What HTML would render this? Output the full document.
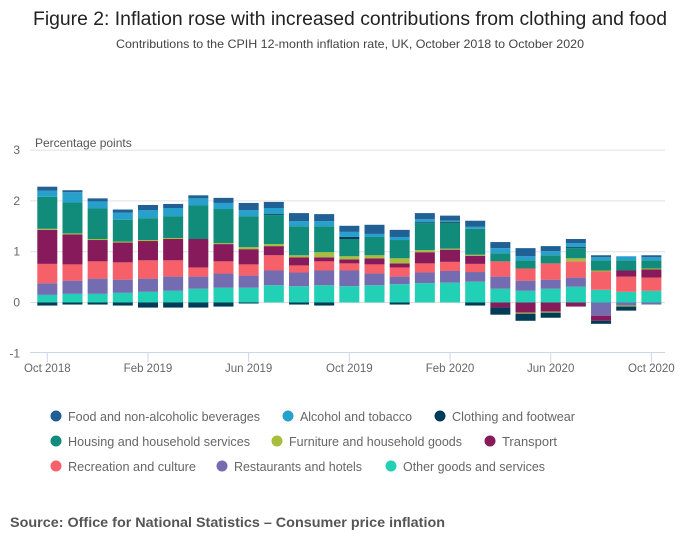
<!DOCTYPE html>
<html><head><meta charset="utf-8"><style>
body{margin:0;background:#fff;font-family:"Liberation Sans",sans-serif}
svg{display:block}
</style></head><body>
<svg id="c" width="700" height="549">
<text x="33" y="25" textLength="634" lengthAdjust="spacingAndGlyphs" font-size="19" fill="#222">Figure 2: Inflation rose with increased contributions from clothing and food</text>
<text x="116" y="48" textLength="468" lengthAdjust="spacingAndGlyphs" font-size="12" fill="#444">Contributions to the CPIH 12-month inflation rate, UK, October 2018 to October 2020</text>
<text x="35" y="147" font-size="12" fill="#555">Percentage points</text>
<g id="grid"></g><g id="bars"></g><g id="xaxis"></g><g id="legend"></g>
<text x="10" y="527" textLength="435" lengthAdjust="spacingAndGlyphs" font-size="14" font-weight="bold" fill="#555">Source: Office for National Statistics – Consumer price inflation</text>
</svg>
<script>
const months=["Oct 2018","Nov 2018","Dec 2018","Jan 2019","Feb 2019","Mar 2019","Apr 2019","May 2019","Jun 2019","Jul 2019","Aug 2019","Sep 2019","Oct 2019","Nov 2019","Dec 2019","Jan 2020","Feb 2020","Mar 2020","Apr 2020","May 2020","Jun 2020","Jul 2020","Aug 2020","Sep 2020","Oct 2020"];
const tickLabels=["Oct 2018","Feb 2019","Jun 2019","Oct 2019","Feb 2020","Jun 2020","Oct 2020"];
const yTicks=[-1,0,1,2,3];
const seriesNames=["Food and non-alcoholic beverages","Alcohol and tobacco","Clothing and footwear","Housing and household services","Furniture and household goods","Transport","Recreation and culture","Restaurants and hotels","Other goods and services"];
const food=[0.08,0.04,0.06,0.06,0.1,0.08,0.06,0.1,0.14,0.12,0.16,0.14,0.12,0.18,0.14,0.12,0.1,0.12,0.12,0.16,0.1,0.08,0.04,0,0.04];
const alcohol=[0.12,0.2,0.14,0.14,0.16,0.16,0.14,0.12,0.12,0.12,0.1,0.1,0.1,0.06,0.06,0.06,0.02,0.04,0.1,0.08,0.08,0.08,0.06,0.08,0.06];
const clothing=[-0.06,-0.04,-0.04,-0.06,-0.1,-0.1,-0.1,-0.08,-0.02,0.02,-0.04,-0.06,0.04,0,-0.04,0.02,0.02,-0.06,-0.14,-0.14,-0.1,0.02,-0.06,-0.08,0];
const housing=[0.63,0.61,0.6,0.43,0.43,0.43,0.66,0.67,0.61,0.57,0.57,0.51,0.34,0.36,0.36,0.53,0.51,0.51,0.16,0.16,0.16,0.2,0.2,0.2,0.16];
const furniture=[0.02,0.02,0.02,0.02,0.02,0.02,0,0.02,0.04,0.04,0.04,0.1,0.06,0.06,0.1,0.04,0.02,0.02,0,-0.02,-0.02,0.06,0.02,-0.02,0.02];
const transport=[0.67,0.59,0.42,0.39,0.38,0.42,0.56,0.34,0.3,0.18,0.16,0.08,0.08,0.12,0.08,0.22,0.24,0.16,-0.1,-0.2,-0.18,-0.08,-0.1,0.12,0.16];
const recreation=[0.38,0.32,0.34,0.34,0.36,0.32,0.18,0.24,0.22,0.3,0.14,0.18,0.14,0.18,0.18,0.18,0.18,0.16,0.3,0.24,0.32,0.32,0.36,0.3,0.26];
const restaurants=[0.23,0.26,0.3,0.26,0.26,0.28,0.24,0.28,0.24,0.29,0.27,0.29,0.31,0.23,0.15,0.21,0.23,0.19,0.24,0.2,0.18,0.18,-0.26,-0.06,-0.04];
const other=[0.15,0.17,0.17,0.19,0.21,0.23,0.27,0.29,0.29,0.34,0.32,0.34,0.32,0.34,0.36,0.38,0.39,0.41,0.27,0.23,0.27,0.31,0.25,0.21,0.23];
const colors=["#206095","#27a0cc","#003c57","#118c7b","#a8bd3a","#871a5b","#f66068","#746cb1","#22d0b6"];
const series=[food,alcohol,clothing,housing,furniture,transport,recreation,restaurants,other];
const NS="http://www.w3.org/2000/svg";
const y=v=>302.5-v*50.8;
const x=i=>47.3+i*25.17;
function mk(t,a,p){const e=document.createElementNS(NS,t);for(const k in a)e.setAttribute(k,a[k]);p.appendChild(e);return e;}
const grid=document.getElementById('grid');
yTicks.forEach(t=>{
  if(t>-1){const l=mk('line',{x1:30,x2:665,y1:y(t),y2:y(t),stroke:'#e0e0e0','stroke-width':1},grid);
  
  }
  const tx=mk('text',{x:20,y:y(t)+4,'text-anchor':'end','font-size':12,fill:'#666'},grid);tx.textContent=t;
  
  
});
const bars=document.getElementById('bars');
months.forEach((m,i)=>{
  let pos=0,neg=0;
  for(let s=series.length-1;s>=0;s--){
    const v=series[s][i];if(!v)continue;
    let y0,y1;
    if(v>0){y0=pos;y1=pos+v;pos=y1;}else{y0=neg;y1=neg+v;neg=y1;}
    const r=mk('rect',{x:x(i)-10,width:20,y:Math.min(y(y0),y(y1)),height:Math.abs(y(y0)-y(y1)),fill:colors[s]},bars);
    
    
  }
});
const xa=document.getElementById('xaxis');
const al=mk('line',{x1:30,x2:665,y1:352.5,y2:352.5,stroke:'#ccd6eb','stroke-width':1},xa);


tickLabels.forEach(lab=>{
  const i=months.indexOf(lab);
  mk('line',{x1:x(i),x2:x(i),y1:352.5,y2:362,stroke:'#ccd6eb'},xa);
  const t=mk('text',{x:x(i),y:372,'text-anchor':'middle','font-size':11.5,fill:'#666'},xa);t.textContent=lab;
  
  
});
const legPos=[[56,416],[288,416],[440,416],[56,441],[277,441],[490,441],[56,466],[222,466],[391,466]];
const legW=[192,112,123,182,173,55,128,128,142];
const lg=document.getElementById('legend');
seriesNames.forEach((n,s)=>{
  const g=mk('g',{},lg);
  
  
  mk('circle',{cx:legPos[s][0],cy:legPos[s][1],r:5.5,fill:colors[s]},g);
  const t=mk('text',{x:legPos[s][0]+12,y:legPos[s][1]+5,'font-size':13,fill:'#666',textLength:legW[s],lengthAdjust:'spacingAndGlyphs'},g);t.textContent=n;
});
</script>
</body></html>
